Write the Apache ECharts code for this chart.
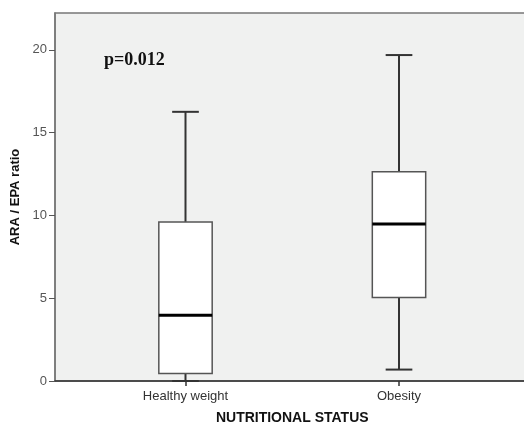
<!DOCTYPE html>
<html>
<head>
<meta charset="utf-8">
<script src="https://cdn.jsdelivr.net/npm/echarts@6/dist/echarts.min.js"></script>
<style>
  html, body { margin: 0; padding: 0; background: #fff; }
  #chart { width: 524px; height: 425px; }
</style>
</head>
<body>
<div id="chart"></div>
<script>
// boxplot stats: [min, Q1, median, Q3, max]
const categories = ['Healthy weight', 'Obesity'];
const boxStats = [
  [0, 0.45, 3.97, 9.61, 16.26],
  [0.69, 5.04, 9.49, 12.64, 19.69]
];
const yTicks = [0, 5, 10, 15, 20];
const yMax = 22.23;

const chart = echarts.init(document.getElementById('chart'));

function renderBox(params, api) {
  const cat = api.value(0);
  const band = api.size([1, 0])[0];
  const half = band * 0.125;
  const cap = band * 0.0625;
  const pMin = api.coord([cat, api.value(1)]);
  const pQ1 = api.coord([cat, api.value(2)]);
  const pMed = api.coord([cat, api.value(3)]);
  const pQ3 = api.coord([cat, api.value(4)]);
  const pMax = api.coord([cat, api.value(5)]);
  const x = pQ1[0];
  const whisker = {stroke: '#333', lineWidth: 2};
  return {
    type: 'group',
    children: [
      {type: 'line', shape: {x1: x, y1: pQ3[1], x2: x, y2: pMax[1]}, style: whisker},
      {type: 'line', shape: {x1: x, y1: pQ1[1], x2: x, y2: pMin[1]}, style: whisker},
      {type: 'line', shape: {x1: x - cap, y1: pMax[1], x2: x + cap, y2: pMax[1]}, style: whisker},
      {type: 'line', shape: {x1: x - cap, y1: pMin[1], x2: x + cap, y2: pMin[1]}, style: whisker},
      {type: 'rect', shape: {x: x - half, y: pQ3[1], width: half * 2, height: pQ1[1] - pQ3[1]},
        style: {fill: '#fff', stroke: '#555', lineWidth: 1.5}},
      {type: 'line', shape: {x1: x - half, y1: pMed[1], x2: x + half, y2: pMed[1]},
        style: {stroke: '#000', lineWidth: 3}}
    ]
  };
}

const option = {
  animation: false,
  backgroundColor: '#fff',
  title: {
    text: '{n|p=}{b|0.012}',
    left: 99,
    top: 46,
    textStyle: {
      rich: {
        n: {fontFamily: 'Liberation Serif', fontSize: 18, color: '#111'},
        b: {fontFamily: 'Liberation Serif', fontSize: 18, fontWeight: 'bold', color: '#111'}
      }
    }
  },
  grid: [
    {left: 55, top: 13, width: 475, bottom: 44, show: true, backgroundColor: '#f0f1f0',
      borderColor: '#777', borderWidth: 1.5, outerBoundsMode: 'none', containLabel: false},
    {left: 78.75, top: 13, width: 427, bottom: 44, outerBoundsMode: 'none', containLabel: false}
  ],
  xAxis: [
    {
      gridIndex: 0, type: 'value', min: 0, max: 1,
      axisLine: {show: true, lineStyle: {color: '#333', width: 1.5}},
      axisTick: {show: false}, axisLabel: {show: false}, splitLine: {show: false}
    },
    {
      gridIndex: 1, type: 'category', data: categories,
      axisLine: {show: false},
      axisTick: {show: true, alignWithLabel: true, length: 5, lineStyle: {color: '#333', width: 1.5}},
      axisLabel: {color: '#333', fontFamily: 'Liberation Sans', fontSize: 13, margin: 9},
      name: 'NUTRITIONAL STATUS',
      nameLocation: 'middle',
      nameGap: 30,
      nameTextStyle: {color: '#111', fontFamily: 'Liberation Sans', fontSize: 14, fontWeight: 'bold'}
    }
  ],
  yAxis: [
    {
      gridIndex: 0, type: 'value', min: 0, max: yMax,
      axisLine: {show: true, lineStyle: {color: '#777', width: 1.5}},
      axisTick: {show: true, length: 6, customValues: yTicks, lineStyle: {color: '#555'}},
      axisLabel: {color: '#555', fontFamily: 'Liberation Sans', fontSize: 13, margin: 8, customValues: yTicks},
      splitLine: {show: false},
      name: 'ARA / EPA ratio',
      nameLocation: 'middle',
      nameGap: 27,
      nameTextStyle: {color: '#111', fontFamily: 'Liberation Sans', fontSize: 13, fontWeight: 'bold'}
    },
    {
      gridIndex: 1, type: 'value', min: 0, max: yMax, show: false
    }
  ],
  series: [{
    type: 'custom',
    xAxisIndex: 1,
    yAxisIndex: 1,
    renderItem: renderBox,
    encode: {x: 0, y: [1, 2, 3, 4, 5]},
    data: boxStats.map((s, i) => [i].concat(s))
  }]
};
chart.setOption(option);
</script>
</body>
</html>
